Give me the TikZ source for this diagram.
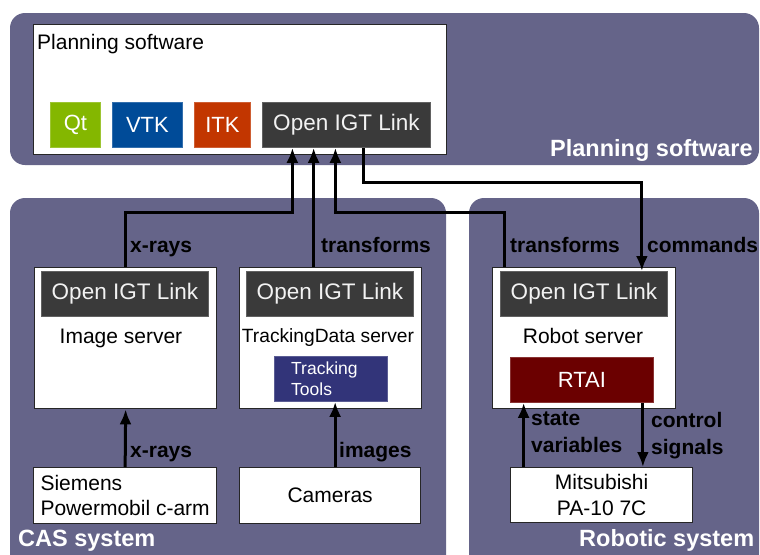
\documentclass[tikz,border=0pt]{standalone}
\usepackage{fontspec}
\setmainfont{Liberation Sans}
\usetikzlibrary{arrows.meta}

\definecolor{panelbg}{HTML}{656489}
\definecolor{qtgreen}{HTML}{84B700}
\definecolor{vtkblue}{HTML}{004B98}
\definecolor{itkred}{HTML}{C23600}
\definecolor{igtgray}{HTML}{3A3A3A}
\definecolor{toolsblue}{HTML}{323479}
\definecolor{rtaired}{HTML}{6B0000}

\begin{document}
\begin{tikzpicture}[x=1pt, y=-1pt, >={Latex[length=15pt,width=12pt]},
  box/.style={draw=black!85, line width=1.3pt, fill=white, inner sep=0pt, anchor=north west},
  lib/.style={fill=#1, draw=#1!80!white, line width=0.8pt, inner sep=0pt, anchor=north west,
    text=white, font=\fontsize{22}{24}\selectfont},
  igt/.style={lib=igtgray, minimum width=167, minimum height=45, text=black!5,
    font=\fontsize{22.5}{24}\selectfont},
  txt/.style={inner sep=0pt, font=\fontsize{21}{25}\selectfont, text height=15pt, text depth=4pt},
  lbl/.style={inner sep=0pt, anchor=west, font=\fontsize{21}{27}\selectfont\bfseries,
    text height=15pt, text depth=4pt},
  lbltwo/.style={inner sep=0pt, anchor=north west, font=\fontsize{21}{27}\selectfont\bfseries,
    align=left},
  title/.style={inner sep=0pt, anchor=west, text=white, font=\fontsize{23.5}{26}\selectfont\bfseries,
    text height=17pt, text depth=5pt},
  link/.style={line width=3pt, black}]

  % Bild
  \useasboundingbox (0,0) rectangle (760,554);
  \clip (0,0) rectangle (760,554);

  % Bereiche
  \fill[panelbg, rounded corners=15] (10,13) rectangle (759,165);
  \fill[panelbg, rounded corners=15] (10,198) rectangle (446,580);
  \fill[panelbg, rounded corners=15] (469,198) rectangle (759,580);

  \node[title] (tplan) at (550,150) {Planning software};
  \node[title] (tcas) at (18,540) {CAS system};
  \node[title] (trob) at (579,540) {Robotic system};

  % Planungssoftware
  \node[box, minimum width=413, minimum height=130] (plan) at (33,24) {};
  \node[txt, anchor=west] (plantxt) at (37,44) {Planning software};
  \node[lib=qtgreen, minimum width=50, minimum height=45] (qt) at (50,102) {Qt};
  \node[lib=vtkblue, minimum width=70, minimum height=45] (vtk) at (112,102) {VTK};
  \node[lib=itkred, minimum width=56, minimum height=45] (itk) at (194,102) {ITK};
  \node[igt, minimum width=168] (plnoigt) at (262,102) {Open IGT Link};

  % CAS-System
  \node[box, minimum width=182, minimum height=141] (imgsrv) at (34,267) {};
  \node[igt] (imgoigt) at (41,271) {Open IGT Link};
  \node[txt] (imgtxt) at (121,338) {Image server};

  \node[box, minimum width=182, minimum height=141] (trksrv) at (239,267) {};
  \node[igt] (trkoigt) at (246,271) {Open IGT Link};
  \node[txt, font=\fontsize{19.2}{23}\selectfont] (trktxt) at (328,337) {TrackingData server};
  \node[lib=toolsblue, minimum width=113, minimum height=45] (tools) at (274,356) {};
  \node[inner sep=0pt, anchor=west, text=white, align=left,
    font=\fontsize{17.5}{21}\selectfont] (toolstxt) at ([xshift=17]tools.west) {Tracking\\Tools};

  \node[box, minimum width=183, minimum height=56, align=left, font=\fontsize{21}{25}\selectfont]
    (siemens) at (33,467) {Siemens\\Powermobil c-arm};
  \node[box, minimum width=181, minimum height=56, font=\fontsize{21}{25}\selectfont]
    (cameras) at (239,467) {Cameras};

  % Robotersystem
  \node[box, minimum width=183, minimum height=141] (robsrv) at (492,267) {};
  \node[igt] (roboigt) at (500,271) {Open IGT Link};
  \node[txt] (robtxt) at (583,338) {Robot server};
  \node[lib=rtaired, minimum width=143, minimum height=45] (rtai) at (510,357) {RTAI};

  \node[box, minimum width=182, minimum height=55, align=center, font=\fontsize{21}{26}\selectfont]
    (mitsu) at (510,467) {Mitsubishi\\PA-10 7C};

  % Verbindungen
  \draw[link, ->] (imgsrv.north) -- ++(0,-55) -| ([xshift=-54]plnoigt.south);
  \draw[link, ->] ([xshift=-17]trksrv.north) -- ([xshift=-17]trksrv.north |- plnoigt.south);
  \draw[link, ->] ([xshift=-80]robsrv.north) -- ++(0,-55) -| ([xshift=-11]plnoigt.south);
  \draw[link, ->] ([xshift=17]plnoigt.south) -- ++(0,35) -| ([xshift=58]roboigt.north);

  \draw[link, ->] (siemens.north) -- (imgsrv.south);
  \draw[link, ->] ([xshift=5]cameras.north) -- ([xshift=5]cameras.north |- tools.south);
  \draw[link, ->] ([xshift=-78]mitsu.north) -- ([xshift=-78]mitsu.north |- rtai.south);
  \draw[link, ->] ([xshift=61]rtai.south) -- ([xshift=61]rtai.south |- mitsu.north);

  % Beschriftungen
  \node[lbl] (lxr1) at (130,247) {x-rays};
  \node[lbl] (ltf1) at (321,247) {transforms};
  \node[lbl] (ltf2) at (510,247) {transforms};
  \node[lbl] (lcmd) at (647,247) {commands};
  \node[lbl] (lxr2) at (130,452) {x-rays};
  \node[lbl] (limg) at (339,452) {images};
  \node[lbltwo] (lstate) at (531,412) {state\\variables};
  \node[lbltwo] (lctrl) at (651,412) {control\\signals};

\end{tikzpicture}
\end{document}
